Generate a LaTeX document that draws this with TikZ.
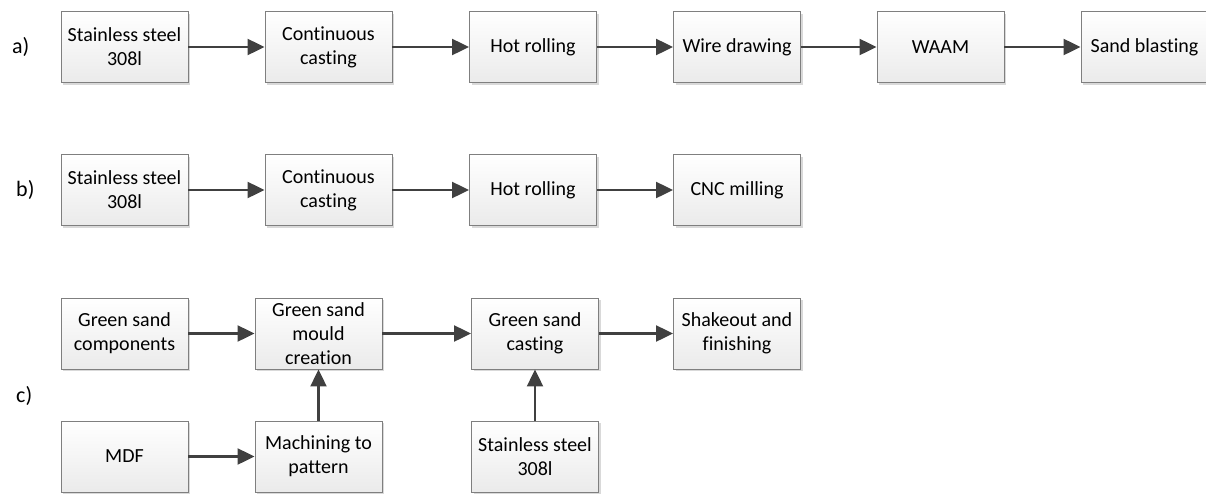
\documentclass[tikz,border=0pt]{standalone}
\usepackage{fontspec}
\setmainfont{Carlito}[RawFeature={-liga;-clig}]
\usetikzlibrary{arrows.meta,shadows}
\definecolor{boxline}{HTML}{7F7F7F}
\definecolor{arrowcol}{HTML}{404040}
\tikzset{
  procbox/.style={draw=boxline, line width=0.9pt, top color=white, bottom color=black!8,
    minimum width=127pt, minimum height=71pt, inner sep=2pt, align=center,
    font=\fontsize{20}{24}\selectfont,
    drop shadow={shadow xshift=2pt, shadow yshift=-2pt, opacity=0.25, fill=black!60}},
  flow/.style={draw=arrowcol, line width=2.2pt, -{Triangle[length=17pt,width=16pt]}},
  rowlabel/.style={anchor=west, inner sep=0pt, font=\fontsize{22}{26}\selectfont}
}
\begin{document}
\begin{tikzpicture}[x=1pt,y=-1pt]
\useasboundingbox (0,0) rectangle (1206,493);
% labels
\node[rowlabel] (la) at (12,47) {a)};
\node[rowlabel] (lb) at (16,190) {b)};
\node[rowlabel] (lc) at (16,396) {c)};
% row a
\node[procbox] (a1) at (124.5,47) {Stainless steel\\308l};
\node[procbox] (a2) at (328.5,47) {Continuous\\casting};
\node[procbox] (a3) at (533,47) {Hot rolling};
\node[procbox] (a4) at (737,47) {Wire drawing};
\node[procbox] (a5) at (940.5,47) {WAAM};
\node[procbox] (a6) at (1144.5,47) {Sand blasting};
\draw[flow] (a1) -- (a2);
\draw[flow] (a2) -- (a3);
\draw[flow] (a3) -- (a4);
\draw[flow] (a4) -- (a5);
\draw[flow] (a5) -- (a6);
% row b
\node[procbox] (b1) at (124.5,190) {Stainless steel\\308l};
\node[procbox] (b2) at (328.5,190) {Continuous\\casting};
\node[procbox] (b3) at (533,190) {Hot rolling};
\node[procbox] (b4) at (737,190) {CNC milling};
\draw[flow] (b1) -- (b2);
\draw[flow] (b2) -- (b3);
\draw[flow] (b3) -- (b4);
% row c
\node[procbox] (c1) at (124.5,333.5) {Green sand\\components};
\node[procbox] (c2) at (318.5,333.5) {Green sand\\mould\\creation};
\node[procbox] (c3) at (535,333.5) {Green sand\\casting};
\node[procbox] (c4) at (737,333.5) {Shakeout and\\finishing};
\node[procbox] (d1) at (124.5,456.5) {MDF};
\node[procbox] (d2) at (318.5,456.5) {Machining to\\pattern};
\node[procbox] (d3) at (535,456.5) {Stainless steel\\308l};
\draw[flow] (c1) -- (c2);
\draw[flow] (c2) -- (c3);
\draw[flow] (c3) -- (c4);
\draw[flow] (d1) -- (d2);
\draw[flow] (d2) -- (c2);
\draw[flow] (d3) -- (c3);
\end{tikzpicture}
\end{document}
